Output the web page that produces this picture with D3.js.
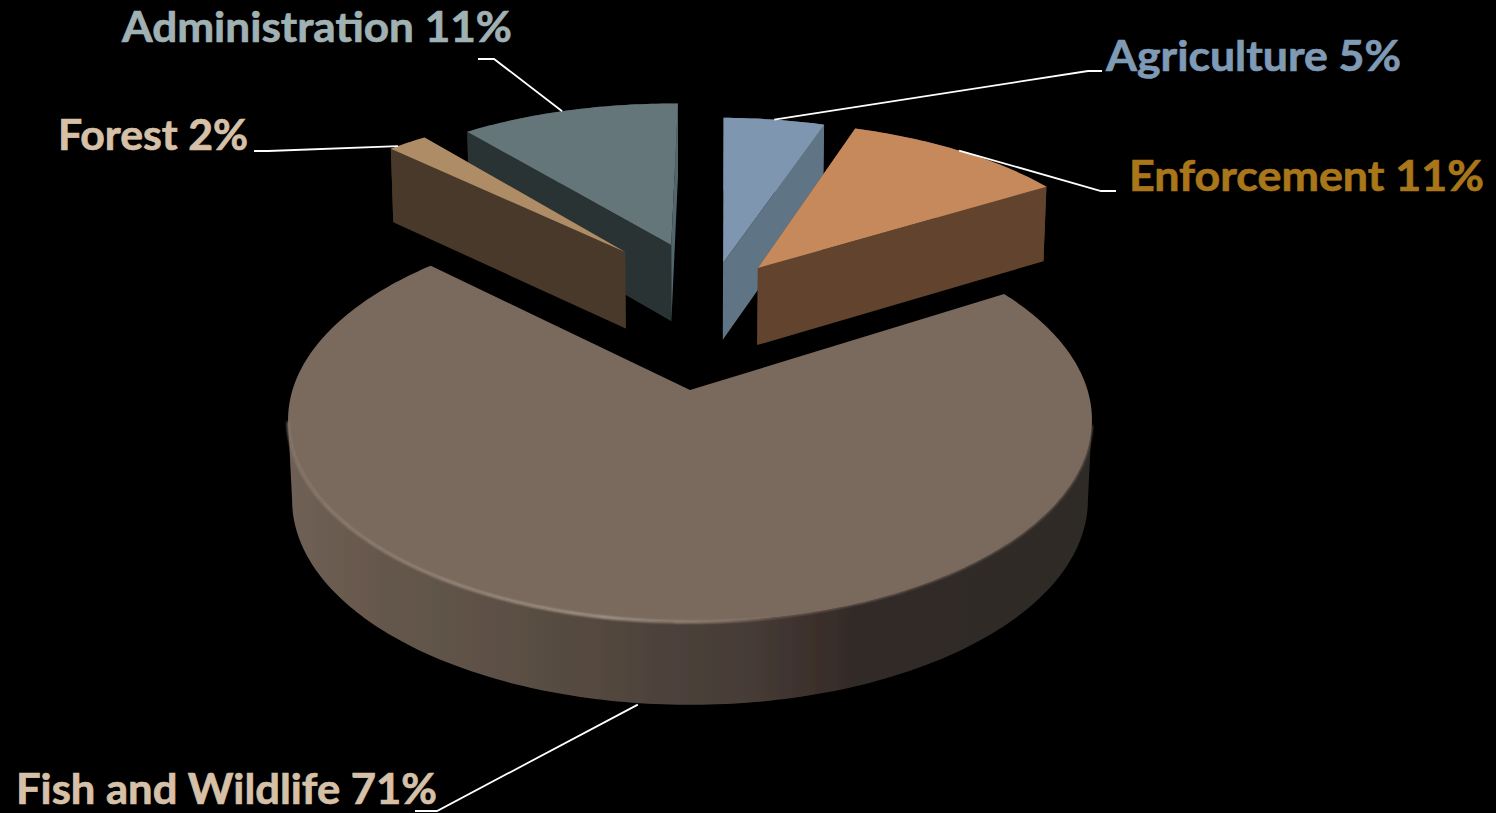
<!DOCTYPE html>
<html>
<head>
<meta charset="utf-8">
<style>
  html, body { margin: 0; background: #000; overflow: hidden; }
  text { font-family: "Lato", "Open Sans", sans-serif; font-weight: 700; }
</style>
<script src="https://cdn.jsdelivr.net/npm/d3@7/dist/d3.min.js"></script>
</head>
<body>
<svg id="chart" width="1496" height="813"></svg>
<script>
// Budget shares, clockwise from twelve o'clock
const categories = ["Agriculture", "Enforcement", "Fish and Wildlife", "Forest", "Administration"];
const shares = [5, 11, 71, 2, 11];

// Face colours
const topColors = ["#7e96af", "#c6895c", "#7a695d", "#ae8d66", "#65767b"];
const wallColors = ["#5f7485", "#62442e", "#3a302b", "#49392a", "#2a3333"];
const endWallColors = ["#5f7485", "#62442e", "#3a302b", "#49392a", "#53666c"];
const labelColors = ["#7f9ab5", "#a9761a", "#d6c1a8", "#d6c1a8", "#a0b1b3"];

// Exploded offset of each slice on the pie plane, in units of the radius
const sliceShift = [[0.092, -0.711], [0.188, -0.68], [0, 0], [-0.182, -0.78], [-0.053, -0.824]];
const sliceRadius = [1.022, 1.022, 1, 1.025, 1.025];

// Label placement: left edge, baseline, text width, leader elbow, leader end, and
// how far the leader's start is turned from the slice's middle (degrees)
const labelLayout = [
  { x: 1106, y: 71, w: 295, elbow: [1088, 71], end: [1102, 71], turn: 0 },
  { x: 1129, y: 191, w: 355, elbow: [1101, 191], end: [1116, 191], turn: 0 },
  { x: 16, y: 804, w: 421, elbow: [437, 811], end: [415, 811], turn: 0.3 },
  { x: 58, y: 150, w: 190, elbow: [268, 151], end: [254, 151], turn: -2 },
  { x: 122, y: 42, w: 390, elbow: [494, 59], end: [478, 59], turn: -1.2 }
];

// Perspective of the tilted disc
const cam = { cx: 690, cy: 390, R: 397.5, S: 197.5, D: 83, p: 0.1485, qx: 0.01, qy: 0.0395 };
function project(u, v, d) {
  const base = 1 - cam.p * v;
  return [cam.cx + cam.R * u / (base + cam.qx * d), cam.cy + (cam.S * v + cam.D * d) / (base + cam.qy * d)];
}

const svg = d3.select("#chart");
const defs = svg.append("defs");
defs.append("filter").attr("id", "soft").attr("x", "-5%").attr("y", "-5%").attr("width", "110%").attr("height", "110%")
  .append("feGaussianBlur").attr("stdDeviation", 0.7);
defs.append("filter").attr("id", "softer").attr("filterUnits", "userSpaceOnUse")
  .attr("x", 0).attr("y", 0).attr("width", 1496).attr("height", 813)
  .append("feGaussianBlur").attr("stdDeviation", 1.1);

// Horizontal shading of the big slice's rim
const rimShade = defs.append("linearGradient").attr("id", "rimShade")
  .attr("gradientUnits", "userSpaceOnUse").attr("x1", 288).attr("x2", 1090).attr("y1", 0).attr("y2", 0);
[[0, "#6f6055"], [0.12, "#65574c"], [0.3, "#5a4e43"], [0.44, "#4f443c"], [0.58, "#463b36"],
 [0.66, "#3b2f2b"], [0.72, "#302a26"], [1, "#2f2a26"]]
  .forEach(([o, c]) => rimShade.append("stop").attr("offset", o).attr("stop-color", c));

// Light bevel along the front-left edge of the top face
const bevel = defs.append("linearGradient").attr("id", "bevel")
  .attr("gradientUnits", "userSpaceOnUse").attr("x1", 288).attr("x2", 800).attr("y1", 0).attr("y2", 0);
[[0, "#8d7d70", 0.9], [0.3, "#a09183", 0.9], [0.62, "#ab9d8f", 1], [0.85, "#9a8a7d", 0.6], [1, "#7a695d", 0]]
  .forEach(([o, c, a]) => bevel.append("stop").attr("offset", o).attr("stop-color", c).attr("stop-opacity", a));

const deg = Math.PI / 180;
const pie = d3.pie().sort(null)
  .startAngle(0.8 * deg)
  .endAngle(360.8 * deg);
const arcs = pie(shares);
const line = d3.line();

function pointAt(i, angle, r, d) {
  const radius = d3.scaleLinear().domain([0, 1]).range([0, sliceRadius[i]]);
  const [su, sv] = sliceShift[i];
  return project(su + radius(r) * Math.sin(angle), sv - radius(r) * Math.cos(angle), d);
}
function edge(i, a0, a1, d) {
  const n = Math.max(8, Math.ceil(Math.abs(a1 - a0) * 60));
  return d3.range(n + 1).map(k => pointAt(i, a0 + (a1 - a0) * k / n, 1, d));
}

// Paint the big slice first, then the exploded ones from back to front
const paintOrder = [2, 4, 3, 0, 1];
paintOrder.forEach(i => {
  const a = arcs[i];
  const g = svg.append("g").attr("class", "slice").datum(a);
  const big = i === 2;

  // curved outer wall; the big slice shows it between its two tangent points
  const wallFrom = big ? 98.5 * deg : a.startAngle;
  const wallTo = big ? 261.5 * deg : a.endAngle;
  g.append("path")
    .attr("d", line(edge(i, wallFrom, wallTo, 0).concat(edge(i, wallFrom, wallTo, 1).reverse())) + "Z")
    .attr("fill", big ? "url(#rimShade)" : wallColors[i])
    .attr("filter", big ? "url(#soft)" : null);

  // the two straight cut walls
  if (!big) {
    [[a.startAngle, wallColors[i]], [a.endAngle, endWallColors[i]]].forEach(([t, c]) => {
      g.append("path")
        .attr("d", line([pointAt(i, t, 0, 0), pointAt(i, t, 1, 0), pointAt(i, t, 1, 1), pointAt(i, t, 0, 1)]) + "Z")
        .attr("fill", c);
    });
  }

  // top face
  g.append("path")
    .attr("d", line([pointAt(i, a.startAngle, 0, 0)].concat(edge(i, a.startAngle, a.endAngle, 0))) + "Z")
    .attr("fill", topColors[i]);

  if (big) {
    // soft transition from top face to the dark wall on the right
    g.append("path")
      .attr("d", line(edge(i, 100 * deg, 182 * deg, 0)))
      .attr("fill", "none")
      .attr("stroke", topColors[i])
      .attr("stroke-width", 1.6)
      .attr("filter", "url(#softer)");
    // light bevel on the left
    g.append("path")
      .attr("d", line(edge(i, 170 * deg, 261 * deg, 0)))
      .attr("fill", "none")
      .attr("stroke", "url(#bevel)")
      .attr("stroke-width", 2.6)
      .attr("filter", "url(#softer)");
  }
});

// Leader lines run from the outer edge of each slice
arcs.forEach((a, i) => {
  const lay = labelLayout[i];
  const mid = (a.startAngle + a.endAngle) / 2 + lay.turn * deg;
  const anchor = pointAt(i, mid, 1, i === 2 ? 1.02 : 0);
  svg.append("path")
    .attr("d", line([anchor, lay.elbow, lay.end]))
    .attr("fill", "none")
    .attr("stroke", "#fff")
    .attr("stroke-width", 1.8);
});

// Labels
arcs.forEach((a, i) => {
  const lay = labelLayout[i];
  svg.append("text")
    .attr("x", lay.x)
    .attr("y", lay.y)
    .attr("font-size", 42)
    .attr("fill", labelColors[i])
    .attr("stroke", labelColors[i])
    .attr("stroke-width", 0.7)
    .attr("textLength", lay.w)
    .attr("lengthAdjust", "spacingAndGlyphs")
    .text(`${categories[i]} ${a.data}%`);
});
</script>
</body>
</html>
